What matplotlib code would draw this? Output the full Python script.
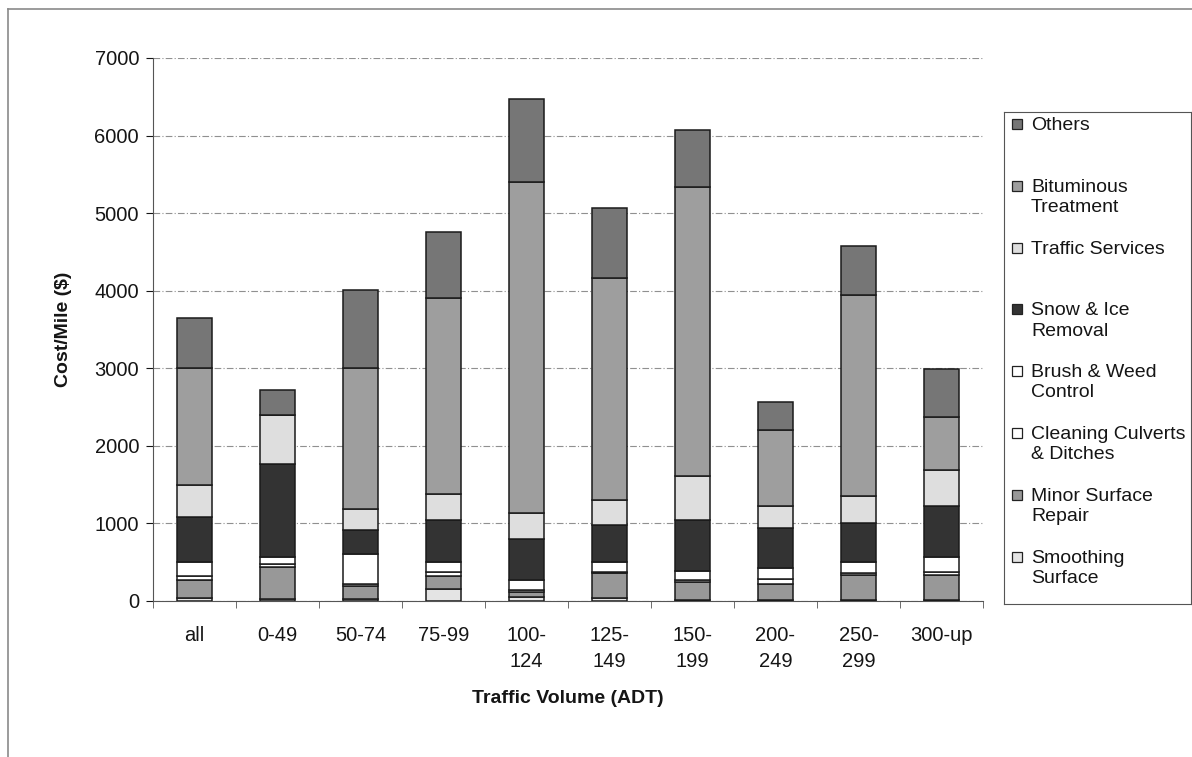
import matplotlib.pyplot as plt
from matplotlib.patches import Rectangle
from matplotlib.lines import Line2D
import numpy as np

plt.rcParams['font.family'] = ['Liberation Sans', 'DejaVu Sans']

categories = ['all', '0-49', '50-74', '75-99', '100-\n124', '125-\n149',
              '150-\n199', '200-\n249', '250-\n299', '300-up']

# cost per mile by activity, stacked bottom to top
smoothing = [45, 30, 30, 160, 50, 45, 10, 10, 15, 15]
minor_repair = [230, 410, 165, 160, 70, 310, 230, 215, 320, 320]
culverts = [50, 35, 25, 55, 20, 25, 30, 55, 30, 40]
brush_weed = [175, 95, 390, 130, 130, 125, 115, 150, 140, 195]
snow_ice = [580, 1190, 300, 545, 525, 470, 655, 515, 505, 655]
traffic_serv = [420, 640, 280, 330, 345, 325, 570, 280, 340, 465]
bituminous = [1500, 0, 1810, 2520, 4260, 2870, 3730, 980, 2590, 685]
others = [650, 315, 1015, 860, 1070, 900, 730, 365, 640, 620]

series = [smoothing, minor_repair, culverts, brush_weed, snow_ice,
          traffic_serv, bituminous, others]
names = ['Smoothing\nSurface', 'Minor Surface\nRepair', 'Cleaning Culverts\n& Ditches',
         'Brush & Weed\nControl', 'Snow & Ice\nRemoval', 'Traffic Services',
         'Bituminous\nTreatment', 'Others']
colors = ['#e4e4e4', '#989898', '#ffffff', '#ffffff', '#333333',
          '#dedede', '#9e9e9e', '#767676']

W, H = 1192, 757
TXT = '#151515'
fig = plt.figure(figsize=(W / 100, H / 100), dpi=100)


def px_axes(x0, y0, x1, y1):
    return fig.add_axes([x0 / W, 1 - y1 / H, (x1 - x0) / W, (y1 - y0) / H])


# outer chart border (left and top only)
fig.add_artist(Line2D([8 / W, 8 / W], [0, 1 - 9 / H], color='#8a8a8a', lw=1.2))
fig.add_artist(Line2D([8 / W, 1], [1 - 9 / H, 1 - 9 / H], color='#8a8a8a', lw=1.2))

ax = px_axes(153, 58, 983, 601)
x = np.arange(len(categories))
bottom = np.zeros(len(categories))
for vals, col in zip(series, colors):
    ax.bar(x, vals, width=0.41, bottom=bottom, color=col, edgecolor='#1a1a1a',
           linewidth=1.1, zorder=3)
    bottom += np.array(vals)

ax.set_xlim(-0.5, len(categories) - 0.5)
ax.set_ylim(0, 7000)
ax.set_yticks(np.arange(0, 7001, 1000))
ax.tick_params(axis='y', labelsize=14.5, length=5, direction='out', colors=TXT, pad=5)
ax.set_xticks(x)
ax.set_xticklabels(categories, fontsize=14.5, color=TXT, linespacing=1.45)
ax.set_xticks(np.arange(-0.5, len(categories)), minor=True)
ax.tick_params(axis='x', which='major', length=0, pad=18)
ax.tick_params(axis='x', which='minor', length=5, direction='out', color='#555555')
ax.yaxis.grid(True, color='#909090', linestyle=(0, (6, 2, 1, 2)), linewidth=0.8, zorder=0)
for s in ['top', 'right']:
    ax.spines[s].set_visible(False)
for s in ['left', 'bottom']:
    ax.spines[s].set_color('#555555')
ax.set_ylabel('Cost/Mile ($)', fontsize=14, fontweight='bold', labelpad=16, color=TXT)
ax.set_xlabel('Traffic Volume (ADT)', fontsize=14, fontweight='bold', labelpad=14, color=TXT)

# legend box, top entry first
lg = px_axes(1004, 112, 1191, 604)
lg.set_xlim(1004, 1191)
lg.set_ylim(604, 112)
lg.set_xticks([])
lg.set_yticks([])
for s in lg.spines.values():
    s.set_color('#555555')
for i, (name, col) in enumerate(zip(names[::-1], colors[::-1])):
    yy = 124 + 61.8 * i
    lg.add_patch(Rectangle((1012, yy - 5), 10, 10, facecolor=col, edgecolor='#222222', lw=0.9))
    lg.text(1031, yy - 7, name, fontsize=14, va='top', ha='left', color=TXT,
            linespacing=1.25)

fig.savefig('out.png', dpi=100)
